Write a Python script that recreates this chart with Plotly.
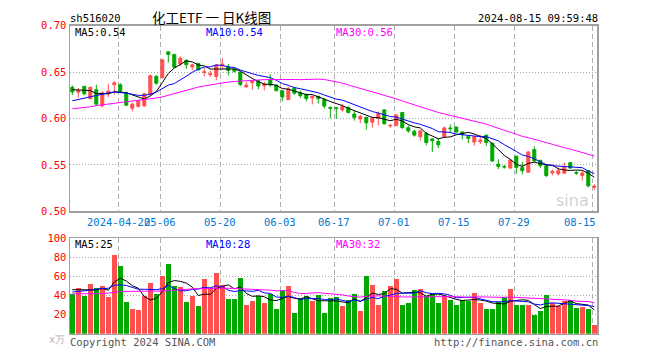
import plotly.graph_objects as go

dates = ["04-10","04-11","04-12","04-15","04-16","04-17","04-18","04-19","04-22","04-23",
         "04-24","04-25","04-26","04-29","04-30","05-06","05-07","05-08","05-09","05-10",
         "05-13","05-14","05-15","05-16","05-17","05-20","05-21","05-22","05-23","05-24",
         "05-27","05-28","05-29","05-30","05-31","06-03","06-04","06-05","06-06","06-07",
         "06-11","06-12","06-13","06-14","06-17","06-18","06-19","06-20","06-21","06-24",
         "06-25","06-26","06-27","06-28","07-01","07-02","07-03","07-04","07-05","07-08",
         "07-09","07-10","07-11","07-12","07-15","07-16","07-17","07-18","07-19","07-22",
         "07-23","07-24","07-25","07-26","07-29","07-30","07-31","08-01","08-02","08-05",
         "08-06","08-07","08-08","08-09","08-12","08-13","08-14","08-15"]

open_ = [0.6335,0.6283,0.6345,0.6213,0.6310,0.6136,0.6272,0.6363,0.6363,0.6276,
         0.6109,0.6129,0.6136,0.6258,0.6453,0.6439,0.6718,0.6690,0.6586,0.6627,
         0.6555,0.6593,0.6495,0.6471,0.6453,0.6568,0.6558,0.6533,0.6499,0.6342,
         0.6384,0.6405,0.6352,0.6419,0.6359,0.6297,0.6203,0.6325,0.6279,0.6255,
         0.6220,0.6238,0.6203,0.6120,0.6115,0.6092,0.6116,0.6047,0.5994,0.6012,
         0.5960,0.6001,0.6092,0.5918,0.5925,0.6064,0.5900,0.5862,0.5803,0.5838,
         0.5779,0.5751,0.5803,0.5897,0.5907,0.5855,0.5803,0.5745,0.5750,0.5820,
         0.5733,0.5507,0.5481,0.5465,0.5594,0.5472,0.5420,0.5664,0.5549,0.5490,
         0.5413,0.5403,0.5410,0.5524,0.5415,0.5385,0.5437,0.5257]
high = [0.6356,0.6328,0.6352,0.6345,0.6363,0.6293,0.6370,0.6404,0.6380,0.6286,
        0.6171,0.6196,0.6276,0.6474,0.6467,0.6641,0.6718,0.6690,0.6669,0.6634,
        0.6589,0.6593,0.6544,0.6516,0.6586,0.6648,0.6586,0.6540,0.6499,0.6394,
        0.6412,0.6412,0.6394,0.6474,0.6370,0.6307,0.6342,0.6342,0.6300,0.6272,
        0.6245,0.6245,0.6220,0.6122,0.6122,0.6158,0.6134,0.6088,0.6036,0.6012,
        0.6019,0.6074,0.6099,0.5942,0.6047,0.6064,0.5925,0.5880,0.5880,0.5855,
        0.5786,0.5786,0.5914,0.5935,0.5907,0.5855,0.5821,0.5810,0.5820,0.5820,
        0.5740,0.5559,0.5500,0.5559,0.5594,0.5531,0.5646,0.5698,0.5549,0.5490,
        0.5448,0.5472,0.5524,0.5524,0.5437,0.5437,0.5437,0.5291]
low = [0.6251,0.6223,0.6251,0.6206,0.6143,0.6119,0.6230,0.6258,0.6276,0.6133,
       0.6074,0.6119,0.6126,0.6241,0.6363,0.6432,0.6603,0.6544,0.6564,0.6534,
       0.6519,0.6516,0.6453,0.6446,0.6412,0.6533,0.6464,0.6495,0.6349,0.6325,
       0.6307,0.6314,0.6300,0.6342,0.6290,0.6185,0.6196,0.6255,0.6220,0.6185,
       0.6151,0.6161,0.6105,0.6000,0.5995,0.6074,0.6054,0.5977,0.5949,0.5880,
       0.5900,0.5925,0.5935,0.5900,0.5914,0.5890,0.5845,0.5803,0.5761,0.5709,
       0.5639,0.5681,0.5796,0.5855,0.5845,0.5775,0.5733,0.5707,0.5723,0.5705,
       0.5530,0.5455,0.5458,0.5458,0.5403,0.5396,0.5413,0.5531,0.5465,0.5368,
       0.5385,0.5385,0.5403,0.5458,0.5392,0.5330,0.5257,0.5229]
close = [0.6286,0.6300,0.6265,0.6335,0.6154,0.6276,0.6293,0.6384,0.6293,0.6143,
         0.6154,0.6189,0.6265,0.6460,0.6380,0.6631,0.6690,0.6551,0.6648,0.6579,
         0.6578,0.6523,0.6502,0.6481,0.6575,0.6586,0.6516,0.6509,0.6366,0.6359,
         0.6401,0.6349,0.6370,0.6359,0.6300,0.6231,0.6318,0.6272,0.6245,0.6213,
         0.6238,0.6213,0.6133,0.6110,0.6108,0.6127,0.6064,0.6012,0.6022,0.5953,
         0.6001,0.6054,0.5942,0.5925,0.6036,0.5900,0.5866,0.5820,0.5866,0.5740,
         0.5761,0.5716,0.5897,0.5890,0.5855,0.5825,0.5785,0.5803,0.5765,0.5740,
         0.5542,0.5483,0.5477,0.5552,0.5472,0.5437,0.5639,0.5542,0.5490,0.5385,
         0.5430,0.5437,0.5479,0.5465,0.5411,0.5413,0.5274,0.5271]
volume = [41.4,48.1,39.7,52.2,47.4,49.9,38.0,82.7,71.2,33.6,
          25.4,24.4,39.7,53.2,42.0,60.0,72.6,49.9,48.9,32.9,
          39.0,28.8,57.3,47.5,63.4,50.5,36.3,36.3,58.3,29.5,
          34.6,39.0,31.8,41.4,26.1,45.8,49.8,22.0,36.9,39.0,
          33.9,40.4,21.7,36.9,38.7,28.5,35.6,41.7,23.4,60.0,
          50.9,29.5,44.8,49.8,57.3,30.5,32.6,46.1,47.1,39.7,
          41.4,32.6,39.0,35.6,30.5,35.6,34.3,42.7,32.6,25.4,
          25.4,32.9,38.7,46.8,29.5,29.5,29.5,19.3,23.4,40.7,
          32.2,28.5,34.6,35.6,26.5,27.5,25.4,9.2]

# moving-average values read off the chart where earlier history is not shown
ma5_lead = [0.6310,0.6305,0.6300,0.6300]
ma10_lead = [0.6190,0.6205,0.6222,0.6238,0.6252,0.6265,0.6275,0.6283,0.6282]
ma30_lead = [0.6104,0.6110,0.6118,0.6125,0.6138,0.6148,0.6158,0.6168,0.6175,0.6180,
             0.6188,0.6195,0.6203,0.6212,0.6220,0.6232,0.6250,0.6265,0.6285,0.6305,
             0.6322,0.6338,0.6350,0.6362,0.6372,0.6382,0.6392,0.6398,0.6404]
vma5_lead = [46.0,46.0,45.5,45.5]
vma10_lead = [43.5,44.0,44.5,45.5,46.5,47.0,47.5,50.5,51.0]
vma30_lead = [41.5,41.5,41.6,41.6,41.8,42.0,42.4,43.5,44.2,44.2,
              44.2,44.3,44.3,44.4,44.5,44.6,45.0,45.6,46.2,46.5,
              46.8,47.0,47.3,47.5,47.6,47.6,47.5,47.3,47.0]

label_dates = ["04-22","05-06","05-20","06-03","06-17","07-01","07-15","07-29","08-15"]
label_text = ["2024-04-22","05-06","05-20","06-03","06-17","07-01","07-15","07-29","08-15"]
price_ticks = [0.50,0.55,0.60,0.65,0.70]
price_tick_text = ["0.50","0.55","0.60","0.65","0.70"]
vol_ticks = [20,40,60,80,100]
vol_tick_text = ["20","40","60","80","100"]

title_code = "sh516020"
title_name = "化工ETF 一 日K线图"
timestamp = "2024-08-15 09:59:48"
price_ma_text = ["MA5:0.54","MA10:0.54","MA30:0.56"]
vol_ma_text = ["MA5:25","MA10:28","MA30:32"]
unit_text = "x万"
footer_left = "Copyright 2024 SINA.COM"
footer_right = "http://finance.sina.com.cn"


def moving(values, n, lead):
    out = list(lead)
    for i in range(len(lead), len(values)):
        out.append(sum(values[i - n + 1:i + 1]) / n)
    return out


W, H = 660, 360
RED = "#ff5050"
GREEN = "#00a800"
MONO = "DejaVu Sans Mono"

def px(x):
    return x / W

def py(y):
    return 1 - y / H

idx = list(range(len(dates)))
colors = [RED if c > o else GREEN for o, c in zip(open_, close)]
grid_pos = [dates.index(d) - 0.33 for d in label_dates]

fig = go.Figure()
fig.add_trace(go.Candlestick(
    x=idx, open=open_, high=high, low=low, close=close,
    increasing=dict(line=dict(color=RED, width=1), fillcolor=RED),
    decreasing=dict(line=dict(color=GREEN, width=1), fillcolor=GREEN),
    whiskerwidth=0, xaxis="x", yaxis="y", hoverinfo="skip"))

for vals, n, lead, col in [(close, 5, ma5_lead, "black"),
                           (close, 10, ma10_lead, "#0000ff"),
                           (close, 30, ma30_lead, "#ff00ff")]:
    fig.add_trace(go.Scatter(x=idx, y=moving(vals, n, lead), mode="lines",
                             line=dict(color=col, width=1), xaxis="x", yaxis="y",
                             hoverinfo="skip"))

fig.add_trace(go.Bar(x=idx, y=volume, marker=dict(color=colors, line=dict(width=0)),
                     width=0.82, xaxis="x2", yaxis="y2", hoverinfo="skip"))
for vals, n, lead, col in [(volume, 5, vma5_lead, "black"),
                           (volume, 10, vma10_lead, "#0000ff"),
                           (volume, 30, vma30_lead, "#ff00ff")]:
    fig.add_trace(go.Scatter(x=idx, y=moving(vals, n, lead), mode="lines",
                             line=dict(color=col, width=1), xaxis="x2", yaxis="y2",
                             hoverinfo="skip"))

xr = [-0.383, len(dates) - 1 + 0.45]
xcommon = dict(range=xr, tickvals=grid_pos, showticklabels=False, ticks="",
               showgrid=True, gridcolor="#b0b0b0", griddash="5px,3px", gridwidth=1,
               showline=True, linecolor="#a0a0a0", linewidth=1.5, mirror=True,
               zeroline=False, fixedrange=True)
ycommon = dict(showgrid=True, gridcolor="#a8a8a8", griddash="1px,2px", gridwidth=1,
               showline=True, linecolor="#a0a0a0", linewidth=1.5, mirror=True,
               zeroline=False, ticks="", fixedrange=True,
               tickfont=dict(family=MONO, size=10.5, color="#ff0000"))

fig.update_layout(
    width=W, height=H, margin=dict(l=0, r=0, t=0, b=0),
    paper_bgcolor="white", plot_bgcolor="white", showlegend=False,
    xaxis=dict(domain=[px(70), px(597)], anchor="y", rangeslider=dict(visible=False), **xcommon),
    xaxis2=dict(domain=[px(70), px(597)], anchor="y2", **xcommon),
    yaxis=dict(domain=[py(212.3), py(20.3)], range=[0.50, 0.70], tickvals=price_ticks,
               ticktext=price_tick_text, anchor="x", **ycommon),
    yaxis2=dict(domain=[py(339), py(240)], range=[0, 100], tickvals=vol_ticks,
                ticktext=vol_tick_text, anchor="x2", **ycommon),
    bargap=0, boxgap=0.28,
)

ann = []
def text(t, x, y, anchor="left", size=10, color="black", family=MONO):
    ann.append(dict(text=t, x=px(x), y=py(y), xref="paper", yref="paper",
                    xanchor=anchor, yanchor="middle", showarrow=False,
                    borderpad=0, borderwidth=0,
                    font=dict(family=family, size=size, color=color)))

text(title_code, 70, 12, size=10.5)
text(title_name, 211, 11.5, anchor="center", size=13.5, family="Noto Sans CJK SC")
text(timestamp, 598, 12, anchor="right", size=10.5)
for t, x, c in zip(price_ma_text, [75, 206, 336], ["black", "#0000ff", "#ff00ff"]):
    text(t, x, 27, color=c, size=10.5)
for t, x, c in zip(vol_ma_text, [75, 206, 336], ["black", "#0000ff", "#ff00ff"]):
    text(t, x, 246.5, color=c, size=10.5)

for d, t in zip(label_dates, label_text):
    i = dates.index(d)
    if i == len(dates) - 1:
        ann.append(dict(text=t, x=px(596), y=py(223), xref="paper", yref="paper",
                        xanchor="right", yanchor="middle", showarrow=False,
                        borderpad=0, borderwidth=0,
                        font=dict(family=MONO, size=10.5, color="#0077cc")))
    else:
        ann.append(dict(text=t, x=i - 0.33, y=py(223), xref="x", yref="paper",
                        xanchor="center", yanchor="middle", showarrow=False,
                        borderpad=0, borderwidth=0,
                        font=dict(family=MONO, size=10.5, color="#0077cc")))

text(unit_text, 49, 345, size=10, color="#b0b0b0")
text(footer_left, 70, 348, size=10.5, color="#555555")
text(footer_right, 598, 348, anchor="right", size=10.5, color="#555555")
text("sina", 572, 201, anchor="center", size=16, color="rgba(180,180,180,0.6)", family="DejaVu Sans")

fig.update_layout(annotations=ann)
fig.write_html("out.html", config={"displayModeBar": False, "staticPlot": True},
               post_script="document.body.style.margin='0';document.body.style.padding='0';document.documentElement.style.overflow='hidden';")
